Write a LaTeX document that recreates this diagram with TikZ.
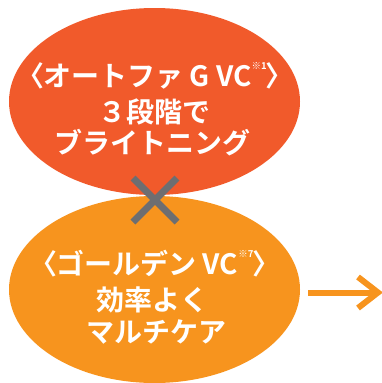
\documentclass[tikz,border=0pt]{standalone}
\usepackage{fontspec}
\usetikzlibrary{shapes.geometric}
\newfontfamily\jp{Noto Sans CJK JP}[BoldFont=* Bold]
\newfontfamily\jpp{Noto Sans CJK JP}[BoldFont=* Bold,RawFeature=+palt]
\definecolor{topred}{HTML}{F15A2B}
\definecolor{botorange}{HTML}{F7941E}
\definecolor{crossgray}{HTML}{6D6E71}
\newcommand{\supnote}[1]{\raisebox{17pt}{\fontsize{9.5}{10}\selectfont #1}}
\newcommand{\lb}{{\jpp\bfseries 〈}}
\newcommand{\rb}{{\jpp\bfseries 〉}}
\tikzset{
  blob/.style={ellipse, minimum width=291pt, minimum height=187pt, inner sep=0pt, draw=none},
  jptext/.style={anchor=base, text=white, font=\jp\bfseries\fontsize{28}{30}\selectfont, inner sep=0pt},
  crossline/.style={crossgray, line width=7pt},
  arrowline/.style={botorange, line width=6pt, line join=miter}
}
\begin{document}
\begin{tikzpicture}[x=1pt,y=-1pt]
\useasboundingbox (0,0) rectangle (382,383);
\node[blob, fill=topred] (top) at (154.5,101.5) {};
\node[blob, fill=botorange] (bot) at (154.5,289.5) {};
\node[jptext] (t1) at (155,86) {\lb オートファ G VC\supnote{※1}\rb};
\node[jptext] (t2) at (154,122) {３段階で};
\node[jptext] (t3) at (152,153) {ブライトニング};
\node[jptext] (b1) at (155,274) {\lb ゴールデン VC\supnote{※7}\rb};
\node[jptext] (b2) at (152,310) {効率よく};
\node[jptext] (b3) at (156,342) {マルチケア};
\coordinate (c1) at (133,178);
\coordinate (c2) at (177,222);
\coordinate (c3) at (177,178);
\coordinate (c4) at (133,222);
\draw[crossline] (c1) -- (c2);
\draw[crossline] (c3) -- (c4);
\coordinate (as) at (308,292.5);
\coordinate (at) at (378,292.5);
\coordinate (aw1) at (358,277);
\coordinate (aw2) at (358,308);
\draw[arrowline] (as) -- (at);
\draw[arrowline] (aw1) -- (at) -- (aw2);
\end{tikzpicture}
\end{document}
